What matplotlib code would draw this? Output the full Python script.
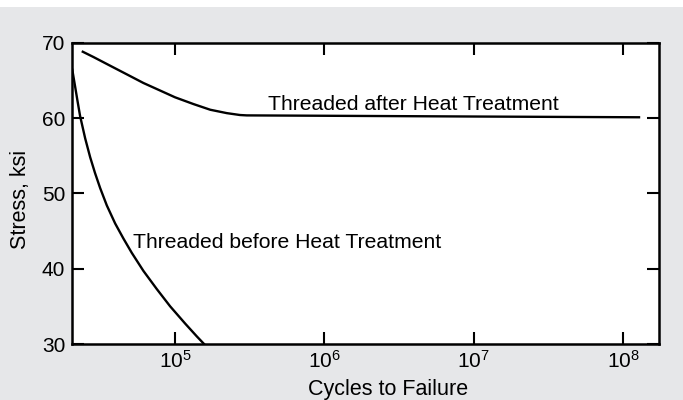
import matplotlib
matplotlib.use("Agg")
import matplotlib.pyplot as plt
from matplotlib.patches import Rectangle

plt.rcParams["font.family"] = ["Liberation Sans", "DejaVu Sans"]
plt.rcParams["mathtext.fontset"] = "custom"
plt.rcParams["mathtext.rm"] = "Liberation Sans"

# S-N curves, stress (ksi) vs cycles to failure
after_cycles = [2.41e4, 2.84e4, 3.67e4, 4.75e4, 6.14e4, 7.94e4, 1.0e5, 1.33e5,
                1.72e5, 2.22e5, 2.72e5, 3.02e5, 1.0e6, 1.0e7, 1.28e8]
after_stress = [68.8, 68.1, 66.95, 65.8, 64.65, 63.65, 62.75, 61.85,
                61.1, 60.65, 60.4, 60.35, 60.3, 60.2, 60.1]

before_cycles = [2.05e4, 2.14e4, 2.22e4, 2.31e4, 2.50e4, 2.70e4, 2.91e4, 3.15e4,
                 3.49e4, 3.97e4, 4.51e4, 5.13e4, 6.14e4, 7.54e4, 9.27e4, 1.17e5,
                 1.40e5, 1.59e5]
before_stress = [66.4, 64.2, 62.3, 60.3, 57.3, 54.8, 52.7, 50.7,
                 48.4, 46.0, 44.0, 42.1, 39.7, 37.3, 35.0, 32.7,
                 31.0, 29.85]

y_ticks = [30, 40, 50, 60, 70]
x_ticks = [1e5, 1e6, 1e7, 1e8]

bg = "#e6e7e9"

fig = plt.figure(figsize=(6.83, 4.0), dpi=100)
fig.patch.set_facecolor("white")
fig.patches.append(Rectangle((0, 0), 1, 393 / 400, transform=fig.transFigure,
                             facecolor=bg, edgecolor="none", zorder=-10))

ax = fig.add_axes([72.3 / 683, 56 / 400, 587 / 683, 301.3 / 400])
ax.set_facecolor("white")

ax.plot(after_cycles, after_stress, color="black", lw=1.7, solid_joinstyle="round")
ax.plot(before_cycles, before_stress, color="black", lw=1.7, solid_joinstyle="round")

ax.set_xscale("log")
ax.set_xlim(2.05e4, 1.75e8)
ax.set_ylim(30, 70)
ax.set_xticks(x_ticks)
ax.set_yticks(y_ticks)
ax.minorticks_off()

ax.tick_params(direction="in", length=8.6, width=1.5, labelsize=15, colors="black",
               top=True, right=True, labeltop=False, labelright=False)
ax.tick_params(axis="x", pad=4)
ax.tick_params(axis="y", pad=5)
for sp in ax.spines.values():
    sp.set_linewidth(1.8)

# axis titles placed in figure pixels
fig.text(20.5 / 683, 1 - 199 / 400, "Stress, ksi", fontsize=15.5, rotation=90,
         ha="center", va="center")
fig.text(388 / 683, 5 / 400, "Cycles to Failure", fontsize=15.5,
         ha="center", va="baseline")

ax.text(4.2e5, 61.0, "Threaded after Heat Treatment", fontsize=15.2, va="baseline")
ax.text(5.22e4, 42.7, "Threaded before Heat Treatment", fontsize=15.2, va="baseline")

fig.savefig("out.png", dpi=100, facecolor=fig.get_facecolor())
